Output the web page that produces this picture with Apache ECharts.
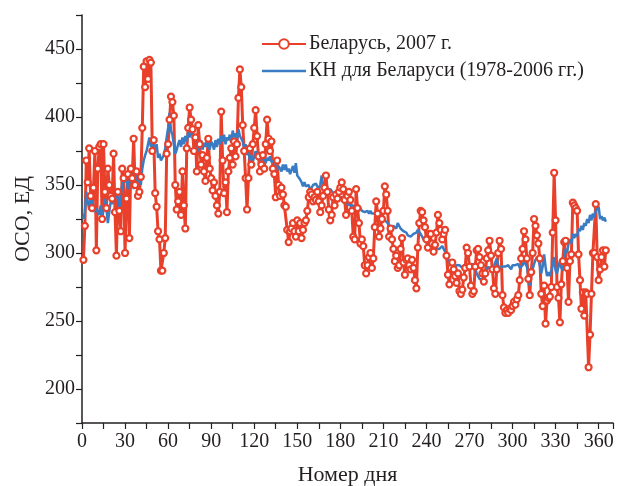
<!DOCTYPE html>
<html><head><meta charset="utf-8">
<script src="https://cdn.jsdelivr.net/npm/echarts@6/dist/echarts.min.js"></script>
<style>html,body{margin:0;padding:0;background:#fff}#c{width:618px;height:486px}</style>
</head><body><div id="c"></div>
<script>
const seriesNames = ['Беларусь, 2007 г.', 'КН для Беларуси (1978-2006 гг.)'];
const xTitle = 'Номер дня';
const yTitle = 'ОСО, ЕД';
// Observed total ozone, 2007, days 1..365
const belarus2007 = [
295,320,368,352,377,342,333,348,375,302,
362,378,380,325,380,345,333,362,350,342,
340,373,330,298,345,331,316,362,355,300,
340,358,311,362,355,384,350,360,342,345,
356,392,437,422,441,428,442,440,375,383,
344,334,316,310,287,287,300,311,373,380,
398,415,411,401,350,332,338,345,328,360,
335,318,377,392,407,398,391,375,385,360,
394,380,365,372,360,353,370,384,362,355,
346,352,342,335,329,345,404,368,344,352,
330,360,370,377,365,382,371,380,414,435,
422,394,375,355,332,355,377,365,380,392,
405,386,371,360,365,372,362,380,398,384,
375,382,362,358,341,368,350,342,348,343,
335,334,317,308,316,318,322,316,312,324,
316,322,311,317,322,324,331,341,345,343,
338,341,339,345,338,330,335,342,348,357,
345,332,324,328,341,335,343,340,345,348,
352,347,339,328,342,345,339,331,312,310,
347,333,322,307,310,305,291,285,291,297,
300,289,296,319,338,329,312,318,325,331,
349,343,331,312,318,310,303,294,298,289,
291,303,311,293,284,295,296,291,288,295,
289,280,274,304,322,331,330,324,319,310,
304,314,314,307,301,306,315,328,322,317,
310,314,317,298,284,277,289,293,288,283,
278,285,272,270,273,282,289,304,300,290,
276,270,272,290,302,303,297,291,285,279,
285,296,302,309,298,288,274,270,288,300,
309,303,269,260,256,258,256,259,258,261,
264,262,266,269,280,296,303,316,310,296,
281,269,286,300,325,320,313,307,296,270,
261,276,248,265,267,268,275,315,359,324,
275,267,249,277,294,308,309,289,264,294,
299,337,335,333,331,299,280,259,271,254,
271,270,216,240,270,300,300,336,297,280,
288,297,302,290,302
];
// Climatic norm 1978-2006, days 1..365
const normBelarus = [
325,330,345,338,332,340,338,335,330,333,
333,328,335,325,332,340,333,322,330,338,
336,335,340,345,340,333,342,350,357,352,
355,347,352,360,355,347,360,356,352,358,
350,362,368,372,375,380,385,378,382,381,
376,380,370,373,368,367,372,377,385,392,
403,390,387,380,373,376,380,383,378,385,
380,386,382,389,385,390,389,384,386,380,
375,378,383,376,381,378,383,380,376,382,
380,376,383,378,384,380,386,382,387,380,
385,383,387,381,390,385,388,383,391,386,
387,382,377,380,372,375,368,372,367,371,
375,370,374,375,368,372,370,366,370,368,
371,367,366,368,363,361,364,362,360,365,
361,365,360,362,358,359,364,359,366,357,
356,354,352,349,352,349,348,350,346,348,
350,349,351,349,346,350,357,350,348,347,
346,345,347,346,344,345,343,342,341,340,
341,339,339,338,336,337,335,334,335,333,
334,333,332,333,331,332,330,330,331,329,
331,329,330,329,327,328,329,326,327,326,
324,323,322,321,319,318,320,319,318,322,
323,318,317,316,316,315,313,312,312,311,
314,313,315,317,316,314,312,310,310,309,
307,306,306,305,304,304,303,304,303,302,
305,303,301,298,296,293,291,290,289,290,
291,290,291,290,289,291,290,288,289,291,
290,292,291,289,285,283,281,281,280,282,
285,288,290,289,287,288,290,293,296,291,
289,288,290,291,290,289,291,290,288,291,
290,291,290,292,289,290,291,294,293,290,
284,276,283,288,292,295,297,295,291,285,
290,299,290,283,286,283,284,291,297,287,
285,290,294,289,287,295,303,300,307,310,
307,314,311,314,312,318,316,320,317,322,
320,325,322,328,324,329,326,331,330,334,
325,327,324,326,323
];
const yLabeled = [200, 250, 300, 350, 400, 450];
const xLabeled = [0, 30, 60, 90, 120, 150, 180, 210, 240, 270, 300, 330, 360];

const toPairs = arr => arr.map((v, i) => [i + 1, v]);
const font = '"Liberation Serif", "Times New Roman", serif';
const ink = '#231f20';
const red = '#e8402a';
const blue = '#3a7cc4';

const chart = echarts.init(document.getElementById('c'), null, {renderer: 'canvas'});
chart.setOption({
  animation: false,
  backgroundColor: '#fff',
  textStyle: {fontFamily: font, color: ink},
  grid: {left: 82, right: 5, top: 15, bottom: 63, containLabel: false, outerBoundsMode: 'none'},
  legend: {
    orient: 'vertical', left: 256, top: 29, itemGap: 7,
    itemWidth: 44, itemHeight: 12,
    textStyle: {fontFamily: font, fontSize: 20, color: ink, padding: [0,0,0,-2]},
    data: [
      {name: seriesNames[0]},
      {name: seriesNames[1], icon: 'path://M0,0H100V6H0Z'}
    ]
  },
  xAxis: {
    type: 'value', min: 0, max: 370, interval: 15,
    name: xTitle, nameLocation: 'middle', nameGap: 41,
    nameTextStyle: {fontFamily: font, fontSize: 22, color: ink},
    axisLine: {show: true, lineStyle: {color: ink, width: 1.5}},
    axisTick: {show: true, inside: false, length: 6, lineStyle: {color: ink, width: 1.2}},
    axisLabel: {
      fontFamily: font, fontSize: 20, color: ink, margin: 9,
      formatter: v => xLabeled.indexOf(v) >= 0 ? String(v) : ''
    },
    splitLine: {show: false}
  },
  yAxis: {
    type: 'value', min: 175, max: 475, interval: 25,
    name: yTitle, nameLocation: 'middle', nameGap: 48,
    nameTextStyle: {fontFamily: font, fontSize: 22, color: ink},
    axisLine: {show: true, lineStyle: {color: ink, width: 1.5}},
    axisTick: {show: true, inside: false, length: 6, lineStyle: {color: ink, width: 1.2}},
    axisLabel: {
      fontFamily: font, fontSize: 20, color: ink, margin: 7,
      formatter: v => yLabeled.indexOf(v) >= 0 ? String(v) : ''
    },
    splitLine: {show: false}
  },
  series: [
    {
      name: seriesNames[0], type: 'line', data: toPairs(belarus2007),
      symbol: 'circle', symbolSize: 6, showSymbol: true,
      lineStyle: {color: red, width: 3},
      itemStyle: {color: '#fff', borderColor: red, borderWidth: 2.2}
    },
    {
      name: seriesNames[1], type: 'line', data: toPairs(normBelarus),
      symbol: 'none', showSymbol: false,
      lineStyle: {color: blue, width: 2.5},
      itemStyle: {color: blue}
    }
  ]
});
</script></body></html>
